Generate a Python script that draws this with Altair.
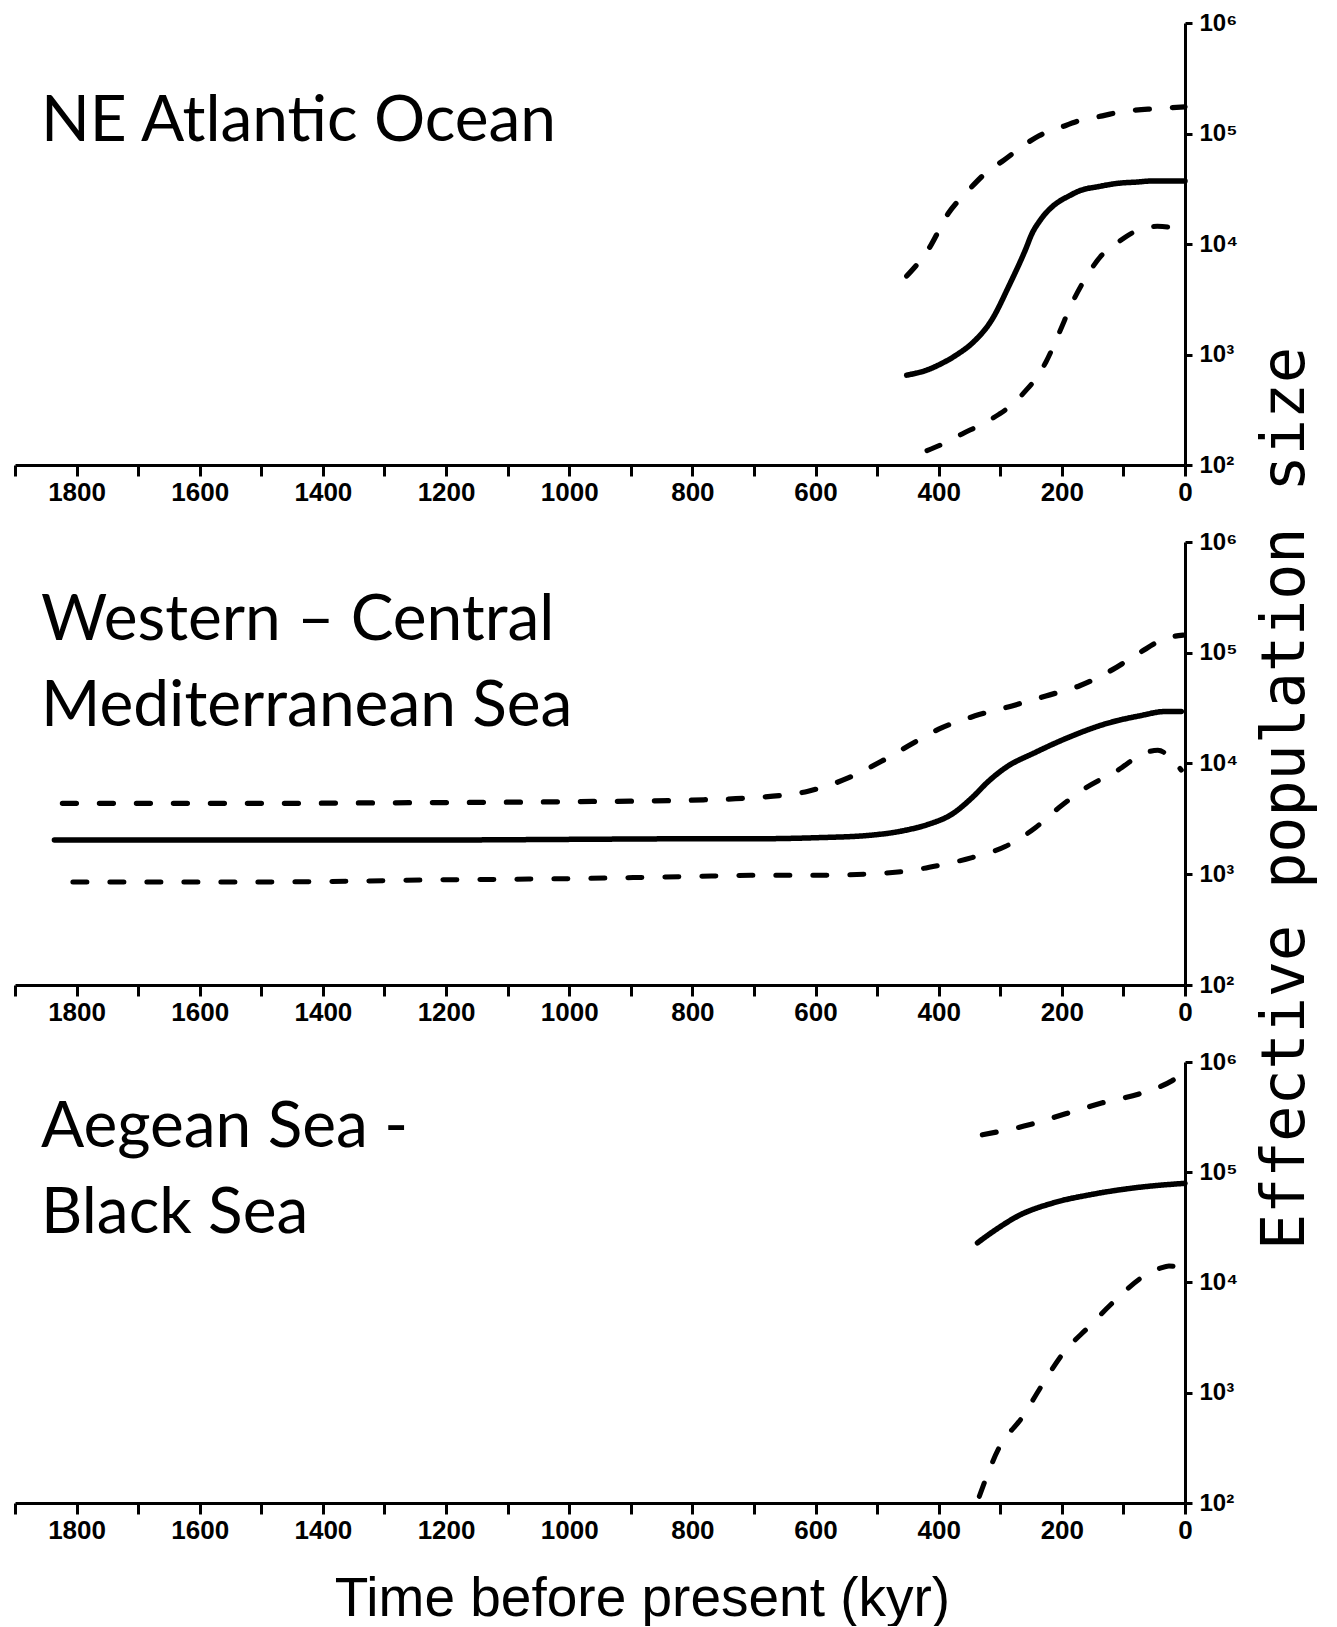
import altair as alt
import pandas as pd

# ---------------- data (time in kyr before present, Ne values) ----------------
# Panel 1: NE Atlantic Ocean
atl_mean_kyr = [452, 420, 395, 370, 346, 313, 286, 259, 248, 237, 226, 215, 200, 190, 172, 140, 107, 80, 52, 0]
atl_mean_ne = [650, 720, 830, 1000, 1260, 2090, 4170, 8900, 12590, 15850, 19050, 21900, 25120, 26900, 30200, 33100, 35500, 36300, 37200, 37200]
atl_up_kyr = [452, 417, 384, 351, 320, 294, 265, 237, 200, 169, 134, 101, 60, 0]
atl_up_ne = [5130, 8900, 19050, 30900, 45700, 57500, 75900, 95500, 114800, 131800, 144500, 158500, 166000, 173800]
atl_lo_kyr = [419, 390, 362, 330, 302, 280, 259, 240, 226, 204, 183, 156, 135, 117, 95, 69, 45, 25, 10, 0]
atl_lo_ne = [135, 158, 191, 234, 288, 355, 468, 631, 851, 1585, 2951, 5495, 7943, 9550, 11750, 13800, 14450, 14130, 12880, 11220]

# Panel 2: Western - Central Mediterranean Sea
med_mean_kyr = [1836, 1500, 1200, 1000, 800, 705, 596, 515, 460, 417, 379, 346, 319, 292, 243, 183, 128, 74, 31, 6]
med_mean_ne = [2040, 2040, 2040, 2065, 2090, 2090, 2140, 2240, 2455, 2820, 3470, 4900, 6920, 9120, 12590, 17780, 22900, 26900, 29500, 29500]
med_up_kyr = [1823, 1500, 1300, 1000, 800, 705, 612, 547, 493, 449, 400, 341, 281, 226, 172, 117, 74, 31, 3]
med_up_ne = [4365, 4365, 4416, 4519, 4677, 4898, 5623, 7413, 10470, 14450, 20420, 26920, 33110, 40740, 50120, 70790, 100000, 134900, 144500]
med_lo_kyr = [1806, 1500, 1200, 1000, 800, 705, 596, 466, 400, 346, 292, 243, 205, 161, 112, 63, 44, 25, 6]
med_lo_ne = [851, 851, 891, 912, 955, 977, 977, 1047, 1202, 1413, 1778, 2630, 3981, 6026, 8511, 12590, 13180, 11480, 8710]

# Panel 3: Aegean Sea - Black Sea
aeg_mean_kyr = [337, 320, 307, 269, 215, 150, 80, 0]
aeg_mean_ne = [22900, 26900, 30200, 40700, 52500, 63100, 72400, 79400]
aeg_up_kyr = [329, 253, 194, 134, 69, 21, 0]
aeg_up_ne = [218800, 269200, 338800, 426600, 524800, 676100, 812800]
aeg_lo_kyr = [334, 302, 264, 231, 199, 156, 113, 69, 40, 26, 0]
aeg_lo_ne = [115, 316, 603, 1202, 2239, 3981, 6918, 11220, 13490, 14130, 12880]

panel_titles = ["NE Atlantic Ocean", "Western \u2013 Central\nMediterranean Sea", "Aegean Sea -\nBlack Sea"]
series_names = ["mean", "upper", "lower"]
x_ticks = list(range(0, 1901, 100))
y_ticks = [100, 1000, 10000, 100000, 1000000]
x_title = "Time before present (kyr)"
y_title = "Effective population size"

panels = [
    [(atl_mean_kyr, atl_mean_ne), (atl_up_kyr, atl_up_ne), (atl_lo_kyr, atl_lo_ne)],
    [(med_mean_kyr, med_mean_ne), (med_up_kyr, med_up_ne), (med_lo_kyr, med_lo_ne)],
    [(aeg_mean_kyr, aeg_mean_ne), (aeg_up_kyr, aeg_up_ne), (aeg_lo_kyr, aeg_lo_ne)],
]

heights = [442, 443, 441]
title_y = [118, 98, 85]

ylabel_expr = ("datum.value == 1000000 ? '10\u2076' : datum.value == 100000 ? '10\u2075' : "
               "datum.value == 10000 ? '10\u2074' : datum.value == 1000 ? '10\u00b3' : '10\u00b2'")
xlabel_expr = "datum.value % 200 == 0 && datum.value < 1900 ? datum.label : ''"

AXFONT = "Liberation Sans"


def make_panel(i):
    rows = []
    for name, (ks, ns) in zip(series_names, panels[i]):
        for k, n in zip(ks, ns):
            rows.append({"series": name, "kyr": k, "ne": n})
    df = pd.DataFrame(rows)

    last = i == 2
    mid = i == 1
    xaxis_kw = dict(values=x_ticks, format="d", labelExpr=xlabel_expr, tickSize=11,
                    labelPadding=3, labelFont=AXFONT, labelFontWeight="bold",
                    labelFontSize=26, labelFlush=False, labelOverlap=False, grid=False)
    if last:
        xaxis_kw.update(title=x_title, titleFont=AXFONT, titleFontWeight="normal",
                        titleFontSize=55, titleX=627, titleY=112, titleBaseline="alphabetic",
                        titleAlign="center", titleColor="black")
    else:
        xaxis_kw.update(title=None)

    yaxis_kw = dict(orient="right", values=y_ticks, labelExpr=ylabel_expr, tickSize=7,
                    labelPadding=7, labelFont=AXFONT, labelFontWeight="bold",
                    labelFontSize=24, labelFlush=False, labelOverlap=False, grid=False)
    if mid:
        yaxis_kw.update(title=y_title, titleFont="DejaVu Sans Mono", titleFontWeight="normal",
                        titleFontSize=60, titleAngle=270, titleX=100, titleY=256,
                        titleAlign="center", titleBaseline="middle", titleColor="black")
    else:
        yaxis_kw.update(title=None)

    lines = alt.Chart(df).mark_line(interpolate="monotone", color="black", strokeCap="round").encode(
        x=alt.X("kyr:Q", scale=alt.Scale(domain=[0, 1900], reverse=True, nice=False, zero=False),
                axis=alt.Axis(**xaxis_kw)),
        y=alt.Y("ne:Q", scale=alt.Scale(type="log", domain=[100, 1000000], nice=False),
                axis=alt.Axis(**yaxis_kw)),
        detail="series:N",
        strokeDash=alt.StrokeDash("series:N", scale=alt.Scale(domain=series_names,
                                  range=[[1, 0], [14, 23], [14, 23]]), legend=None),
        strokeWidth=alt.StrokeWidth("series:N", scale=alt.Scale(domain=series_names,
                                    range=[5.5, 5, 5]), legend=None),
        order=alt.Order("kyr:Q", sort="descending"),
    )

    title = alt.Chart(pd.DataFrame({"label": [panel_titles[i]]})).mark_text(
        align="left", baseline="alphabetic", font="Lato", fontSize=64, lineHeight=86,
        lineBreak="\n", color="black"
    ).encode(x=alt.value(26), y=alt.value(title_y[i]), text="label:N")

    return alt.layer(lines, title).properties(width=1170, height=heights[i])


chart = alt.vconcat(make_panel(0), make_panel(1), make_panel(2), spacing=77, bounds="flush").properties(
    padding={"left": 5, "top": 3, "right": 4, "bottom": 0},
    background="white",
).configure_view(stroke=None).configure_axis(
    domainColor="black", tickColor="black", labelColor="black", domainWidth=3, tickWidth=3
)

chart.save("out.html", embed_options={"renderer": "svg", "actions": False})
